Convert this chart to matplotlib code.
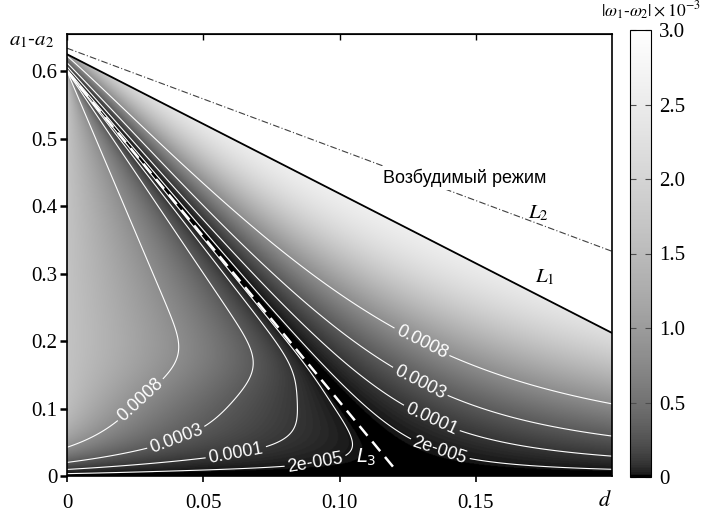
import numpy as np
import matplotlib
matplotlib.use("Agg")
import matplotlib.pyplot as plt
from matplotlib.colors import ListedColormap

# ---- data ----
L1_d = [0.0, 0.2]
L1_y = [0.625, 0.212]
L2_d = [0.0, 0.2]
L2_y = [0.634, 0.333]
L3_d = [0.0, 0.12]
L3_y = [0.600, 0.012]

contour_levels = [2e-5, 1e-4, 3e-4, 8e-4]
contour_texts = ['2e-005', '0.0001', '0.0003', '0.0008']
# label positions (d, a1-a2): left branch and right branch
label_pos = [(0.091, 0.025), (0.136, 0.028),
             (0.062, 0.034), (0.133, 0.078),
             (0.039, 0.068), (0.129, 0.135),
             (0.026, 0.117), (0.132, 0.213)]
xticks = [0.0, 0.05, 0.10, 0.15]
xticklabels = ['0', '0.05', '0.10', '0.15']
yticks = [0.0, 0.1, 0.2, 0.3, 0.4, 0.5, 0.6]
yticklabels = ['0', '0.1', '0.2', '0.3', '0.4', '0.5', '0.6']
cticks = [0.0, 0.5, 1.0, 1.5, 2.0, 2.5, 3.0]
cticklabels = ['0', '0.5', '1.0', '1.5', '2.0', '2.5', '3.0']

plt.rcParams['font.family'] = ['Liberation Sans', 'DejaVu Sans']
plt.rcParams['mathtext.fontset'] = 'stix'
SERIF = ['Liberation Serif', 'DejaVu Serif']

# grey scale that brightens quickly at low values (as in the reference bar)
g = np.linspace(0, 1, 256) ** 0.45
cmap = ListedColormap(np.c_[g, g, g])

# ---- field model |w1-w2| (units 1e-3) built around lines L1 and L3 ----
dg = np.linspace(0, 0.2, 700)
yg = np.linspace(0, 0.655, 700)
D, Y = np.meshgrid(dg, yg)
k3 = (L3_y[1] - L3_y[0]) / (L3_d[1] - L3_d[0])
k1 = (L1_y[1] - L1_y[0]) / (L1_d[1] - L1_d[0])
y3 = L3_y[0] + k3 * D
y1 = L1_y[0] + k1 * D
s = Y - y3
gap = y1 - y3
fR = 63.7 * Y ** 1.41 * (np.clip(s, 0, None) * np.sqrt(0.59 / gap)) ** 1.66
fR = 2.8 * np.tanh(fR / 2.8)
dL3 = np.maximum((Y - L3_y[0]) / k3, 1e-6)
u = np.clip(D / dL3, 0, 1)
lam = 0.025 * np.exp(np.minimum((Y / 0.13) ** 3, 30))
E = 0.3 + 0.7 * np.exp(-D / lam)
G = 1.65 * (1 - np.exp(-(Y / 0.055) ** 1.6))
fL = G * E * (1 - u)
F = np.where(s >= 0, fR, fL)
F = np.where(Y > y1, np.nan, F)

fig = plt.figure(figsize=(7.03, 5.16), dpi=100)
ax = fig.add_axes([67 / 703, 1 - 476 / 516, (612 - 67) / 703, (476 - 34) / 516])
ax.set_facecolor('white')
im = ax.imshow(F, extent=[0, 0.2, 0, 0.655], origin='lower', cmap=cmap,
               vmin=0, vmax=3, aspect='auto', interpolation='bilinear')
cs = ax.contour(D, Y, F * 1e-3, levels=contour_levels, colors='white',
                linewidths=0.8)
fmt = dict(zip(contour_levels, contour_texts))
ax.clabel(cs, fmt=fmt, inline=True, fontsize=13, manual=label_pos,
          inline_spacing=3)
for t in cs.labelTexts:
    t.set_color('white')
    t.set_family(['Liberation Sans', 'DejaVu Sans'])

ax.plot(L1_d, L1_y, color='black', lw=1.3)
ax.plot(L2_d, L2_y, color='0.25', lw=0.8, linestyle=(0, (6, 2, 1, 2)))
ax.plot(L3_d, L3_y, color='white', lw=1.8, linestyle=(0, (5, 3)))

ax.text(0.146, 0.442, 'Возбудимый режим', fontsize=13, ha='center',
        va='center', family=['Liberation Sans', 'DejaVu Sans'],
        bbox=dict(facecolor='white', edgecolor='none', pad=2))
ax.text(0.1755, 0.295, r'$L_1$', fontsize=15, ha='center', va='center')
ax.text(0.173, 0.39, r'$L_2$', fontsize=15, ha='center', va='center')
ax.text(0.1097, 0.027, r'$L_3$', fontsize=14, ha='center', va='center',
        color='white', math_fontfamily='dejavusans')

ax.set_xlim(0, 0.2)
ax.set_ylim(0, 0.655)
ax.set_xticks(xticks)
ax.set_xticklabels(xticklabels, family=SERIF, fontsize=15)
ax.set_yticks(yticks)
ax.set_yticklabels(yticklabels, family=SERIF, fontsize=15)
ax.tick_params(axis='x', direction='out', length=4, width=1.2, pad=9)
ax.tick_params(axis='y', direction='out', length=5, width=1.8, pad=2)
for sp in ax.spines.values():
    sp.set_linewidth(1.2)
top = ax.secondary_xaxis('top')
top.set_xticks(xticks)
top.set_xticklabels([])
top.tick_params(direction='in', length=4, width=1.0)

fig.text(605 / 703, 1 - 501 / 516, r'$d$', fontsize=16, ha='center',
         va='center')
fig.text(32 / 703, 1 - 40 / 516, r'$a_1$-$a_2$', fontsize=15, ha='center',
         va='center')

cax = fig.add_axes([630 / 703, 1 - 477 / 516, 21 / 703, 447 / 516])
cb = fig.colorbar(im, cax=cax, ticks=cticks)
cb.set_ticklabels(cticklabels)
for t in cax.get_yticklabels():
    t.set_family(SERIF)
    t.set_fontsize(15)
cax.yaxis.set_ticks_position('both')
cax.tick_params(direction='in', length=4, width=0.8, pad=6, labelleft=False,
                labelright=True, color='0.3')
cb.outline.set_linewidth(0.8)
fig.text(701 / 703, 1 - 11 / 516, r'$|\omega_1$-$\omega_2|\times10^{-3}$',
         fontsize=12.5, ha='right', va='center')

fig.savefig('out.png', dpi=100)
